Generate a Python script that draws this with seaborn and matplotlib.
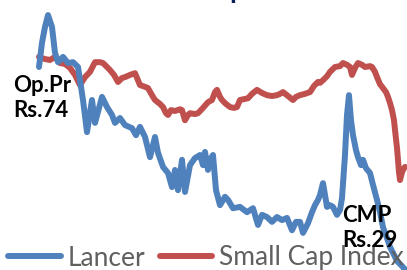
import matplotlib
matplotlib.use("Agg")
import matplotlib.pyplot as plt
import seaborn as sns

# Lancer share price (Rs), trading days since listing
lancer_day = [0, 6, 12, 18, 26, 32, 38, 48, 58, 68, 78, 88, 96, 106, 112, 126, 136, 146, 152, 162,
              172, 186, 194, 202, 212, 222, 232, 238, 248, 258, 266, 272, 278, 286, 292, 302, 312, 322,
              328, 332, 338, 342, 348, 354, 362, 372, 378, 388, 402, 416, 428, 438, 446, 456, 466, 476,
              486, 496, 506, 514, 522, 528, 538, 546, 552, 558, 562, 568, 572, 576, 582, 588, 596, 602,
              606, 612, 616, 620, 624, 628, 634, 638, 644, 648, 654, 662, 668, 676, 682, 688, 696, 702,
              710, 716, 724, 732]
lancer_price = [74.0, 79.5, 83.1, 85.8, 83.1, 77.2, 75.1, 76.3, 74.9, 75.1, 74.0, 66.5, 59.2, 66.5, 61.3,
                67.2, 64.9, 63.1, 61.3, 62.4, 60.8, 60.1, 58.5, 60.4, 58.1, 53.5, 58.1, 54.5, 51.3, 49.9,
                46.7, 50.6, 46.0, 52.9, 45.6, 51.7, 53.3, 54.0, 51.7, 54.7, 50.6, 52.9, 54.0, 46.0, 42.6,
                44.5, 43.8, 41.9, 42.2, 41.0, 41.9, 38.1, 40.4, 39.9, 38.8, 39.9, 39.2, 39.7, 36.9, 38.8,
                38.8, 36.3, 38.5, 41.0, 42.6, 43.8, 44.9, 47.6, 44.9, 42.2, 42.6, 42.2, 40.4, 41.5, 44.2,
                54.0, 63.1, 67.6, 61.9, 58.5, 55.1, 53.5, 51.7, 52.9, 51.0, 49.9, 47.2, 43.8, 41.0, 37.6,
                35.1, 33.1, 31.3, 29.9, 29.0, 28.0]

# Small cap index, rebased to Lancer's scale
index_day = [0, 12, 22, 32, 42, 52, 62, 72, 82, 92, 102, 112, 122, 128, 136, 142, 150, 158, 166, 172,
             182, 192, 202, 212, 218, 226, 232, 242, 248, 254, 258, 264, 272, 282, 286, 292, 298, 302,
             312, 318, 328, 338, 346, 352, 356, 362, 366, 374, 382, 390, 396, 402, 410, 418, 426, 436,
             446, 456, 466, 476, 482, 488, 498, 508, 514, 522, 532, 542, 550, 558, 562, 568, 576, 582,
             592, 602, 608, 616, 622, 626, 632, 638, 646, 652, 662, 666, 672, 676, 682, 686, 694, 698,
             702, 706, 710, 712, 716, 718, 720, 722, 726, 728, 732]
index_value = [76.3, 75.8, 75.6, 76.3, 74.9, 74.7, 73.8, 72.2, 69.9, 71.7, 72.9, 75.1, 75.1, 74.9, 74.0,
               73.3, 72.2, 70.6, 71.5, 71.7, 72.2, 72.6, 69.9, 69.5, 69.2, 67.6, 66.5, 65.6, 64.9, 63.5,
               63.1, 64.2, 64.0, 64.4, 64.2, 61.9, 63.1, 63.5, 63.3, 63.5, 64.7, 66.0, 66.5, 68.3, 68.8,
               67.2, 66.5, 65.6, 64.9, 64.7, 64.9, 66.5, 66.7, 66.9, 67.9, 68.8, 68.1, 67.6, 67.4, 67.6,
               67.9, 68.3, 67.4, 66.5, 67.2, 67.6, 67.9, 68.3, 69.7, 70.6, 70.4, 71.0, 71.9, 72.9, 74.0,
               74.2, 74.9, 74.5, 74.0, 72.2, 73.8, 74.9, 74.5, 74.0, 74.2, 74.0, 72.9, 71.7, 70.1, 69.5,
               68.3, 67.2, 65.8, 64.2, 61.9, 59.7, 55.6, 52.9, 50.1, 48.3, 50.1, 50.6, 51.3]

blue = "#4F81BD"
red = "#C0504D"

sns.set_style("white")
plt.rcParams['font.family'] = ['Lato', 'DejaVu Sans']

fig = plt.figure(figsize=(4.07, 2.70), dpi=100)
ax = fig.add_axes([0, 0, 1, 1])

sns.lineplot(x=index_day, y=index_value, ax=ax, color=red, linewidth=4.3,
             label="Small Cap Index", solid_capstyle="round", solid_joinstyle="round")
sns.lineplot(x=lancer_day, y=lancer_price, ax=ax, color=blue, linewidth=4.3,
             label="Lancer", solid_capstyle="round", solid_joinstyle="round")

ax.set_xlim(-78, 736)
ax.set_ylim(27.86, 89.23)
ax.axis("off")

# legend: Lancer first
handles, labels = ax.get_legend_handles_labels()
leg = ax.legend(handles[::-1], labels[::-1], ncol=2, frameon=False,
                prop={"family": "Lato", "weight": "normal", "size": 19},
                loc="center left", bbox_to_anchor=(0.02, 12 / 270),
                handlelength=2.0, handletextpad=0.25, columnspacing=0.55,
                borderaxespad=0, borderpad=0)
for t in leg.get_texts():
    t.set_color("#606060")

# annotations
lab = dict(fontsize=16, fontweight="bold", color="black", va="baseline")
fig.text(13 / 407, 1 - 92 / 270, "Op.Pr", **lab)
fig.text(13 / 407, 1 - 117 / 270, "Rs.74", **lab)
fig.text(342 / 407, 1 - 222 / 270, "CMP", **lab)
fig.text(342 / 407, 1 - 247 / 270, "Rs.29", **lab)

# bottom of the slide title, cut off at the top
fig.text(229 / 407, 1 + 2 / 270, "p", fontsize=20, fontweight="bold", color="#0D1F5C", va="baseline")

fig.savefig("out.png", dpi=100)
